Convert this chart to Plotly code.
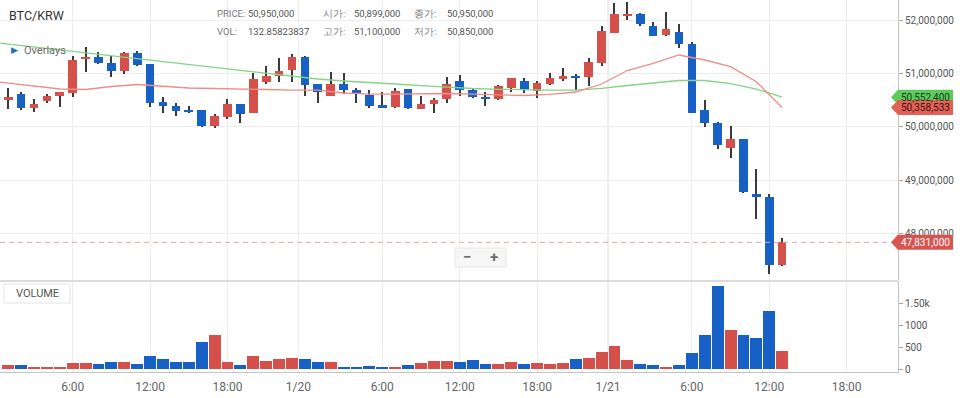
import plotly.graph_objects as go

# ---------------- data ----------------
# hourly candles, index 0 = 1/19 01:00 ... index 60 = 1/21 13:00
idx = list(range(61))
open_ = [50513000, 50612000, 50356000, 50487000, 50575000, 50626000, 51263000, 51306000, 51194000, 51038000,
         51387000, 51169000, 50457000, 50388000, 50313000, 50313000, 50012000, 50176000, 50419000, 50262000,
         50832000, 50956000, 51057000, 51306000, 50794000, 50581000, 50794000, 50688000, 50594000, 50406000,
         50363000, 50706000, 50331000, 50419000, 50513000, 50856000, 50688000, 50556000, 50519000, 50731000,
         50862000, 50675000, 50794000, 50899000, 50956000, 50937000, 51199000, 51756000, 52075000, 52112000,
         51893000, 51725000, 51781000, 51544000, 50313000, 50063000, 49600000, 49763000, 48743000, 48676000,
         47401000]
high = [50719000, 50644000, 50513000, 50607000, 50650000, 51331000, 51500000, 51406000, 51331000, 51400000,
        51419000, 51180000, 50562000, 50438000, 50388000, 50320000, 50244000, 50513000, 50425000, 51000000,
        51138000, 51282000, 51357000, 51320000, 50800000, 51031000, 51012000, 50719000, 50688000, 50656000,
        50719000, 50710000, 50575000, 50544000, 50937000, 50969000, 50700000, 50656000, 50775000, 50920000,
        50907000, 50862000, 51012000, 51100000, 50988000, 51294000, 51888000, 52313000, 52343000, 52125000,
        51957000, 52144000, 51919000, 51582000, 50500000, 50094000, 50012000, 49770000, 49200000, 48737000,
        47907000]
low = [50331000, 50307000, 50281000, 50438000, 50363000, 50550000, 51031000, 51175000, 50925000, 50988000,
       51143000, 50363000, 50250000, 50206000, 50260000, 50000000, 49981000, 50150000, 50063000, 50250000,
       50794000, 50844000, 50844000, 50575000, 50450000, 50575000, 50607000, 50438000, 50344000, 50350000,
       50344000, 50340000, 50325000, 50250000, 50438000, 50575000, 50532000, 50388000, 50500000, 50644000,
       50626000, 50532000, 50790000, 50850000, 50688000, 50763000, 51138000, 51750000, 52000000, 51888000,
       51700000, 51700000, 51469000, 50250000, 49988000, 49581000, 49418000, 48762000, 48274000, 47237000,
       47390000]
close = [50550000, 50356000, 50419000, 50575000, 50644000, 51250000, 51306000, 51188000, 51044000, 51381000,
         51150000, 50450000, 50394000, 50300000, 50269000, 50012000, 50200000, 50419000, 50244000, 50888000,
         50950000, 51050000, 51306000, 50781000, 50644000, 50806000, 50688000, 50607000, 50394000, 50356000,
         50669000, 50344000, 50425000, 50500000, 50806000, 50682000, 50562000, 50513000, 50769000, 50907000,
         50682000, 50813000, 50907000, 50950000, 50907000, 51207000, 51799000, 52112000, 52112000, 51925000,
         51706000, 51831000, 51556000, 50262000, 50063000, 49656000, 49763000, 48770000, 48681000, 47401000,
         47831000]
volume = [98, 98, 45, 25, 45, 136, 136, 106, 159, 159,
          106, 288, 227, 159, 159, 629, 780, 159, 83, 288,
          182, 227, 250, 227, 159, 159, 45, 45, 68, 45,
          45, 91, 136, 182, 182, 159, 200, 114, 114, 167,
          114, 144, 121, 132.85823837, 227, 250, 386, 538, 205, 114,
          91, 45, 91, 364, 780, 1902, 894, 780, 712, 1326,
          424]

# overlay moving-average lines (every 2 hours)
ma_x = [-2, 0, 2, 4, 6, 8, 10, 12, 14, 16, 18, 20, 22, 24, 26, 28, 30,
        32, 34, 36, 38, 40, 42, 44, 46, 48, 50, 52, 54, 56, 58, 60]
ma_red = [50875000, 50819000, 50762000, 50706000, 50697000, 50753000, 50791000, 50762000, 50725000, 50716000,
          50701000, 50697000, 50687000, 50687000, 50631000, 50612000, 50612000, 50622000, 50622000, 50612000,
          50594000, 50584000, 50607000, 50650000, 50800000, 51053000, 51188000, 51344000, 51250000, 51124000,
          50843000, 50358533]
ma_green = [51602000, 51548000, 51494000, 51437000, 51381000, 51325000, 51272000, 51216000, 51160000, 51109000,
            51057000, 51001000, 50944000, 50894000, 50856000, 50832000, 50800000, 50768000, 50736000, 50716000,
            50701000, 50691000, 50687000, 50687000, 50719000, 50772000, 50819000, 50866000, 50866000, 50809000,
            50706000, 50552400]

# axis ticks
x_tickvals = [5, 11, 17, 22.5, 29, 35, 41, 46.5, 53, 59, 65]
x_ticktext = ["6:00", "12:00", "18:00", "1/20", "6:00", "12:00", "18:00", "1/21", "6:00", "12:00", "18:00"]
day_ticks = [22.5, 46.5]
price_ticks = [48000000, 49000000, 50000000, 51000000, 52000000]
vol_ticks = [0, 500, 1000, 1500]
vol_ticktext = ["0", "500", "1000", "1.50k"]
hover_i = 43

# ---------------- style ----------------
RED = "#d5504a"
BLUE = "#1761c6"
GRID = "#ededed"
FONT = "Roboto"

up = [c >= o for o, c in zip(open_, close)]
colors = [RED if u else BLUE for u in up]

fig = go.Figure()

# wicks
fig.add_trace(go.Bar(x=idx, y=[h - l for h, l in zip(high, low)], base=low, width=0.08,
                     marker=dict(color="#3a3a3a", line=dict(width=0)),
                     xaxis="x", yaxis="y", hoverinfo="skip", showlegend=False))
# bodies
fig.add_trace(go.Bar(x=idx, y=[abs(c - o) for o, c in zip(open_, close)],
                     base=[min(o, c) for o, c in zip(open_, close)], width=0.67,
                     marker=dict(color=colors, line=dict(width=0)),
                     xaxis="x", yaxis="y", hoverinfo="skip", showlegend=False))
# MAs
fig.add_trace(go.Scatter(x=ma_x, y=ma_green, mode="lines", line=dict(color="#83d483", width=1.3),
                         xaxis="x", yaxis="y", hoverinfo="skip", showlegend=False))
fig.add_trace(go.Scatter(x=ma_x, y=ma_red, mode="lines", line=dict(color="#ef8d86", width=1.3),
                         xaxis="x", yaxis="y", hoverinfo="skip", showlegend=False))
# volume
fig.add_trace(go.Bar(x=idx, y=volume, width=0.92, marker=dict(color=colors, line=dict(width=0)),
                     xaxis="x2", yaxis="y2", hoverinfo="skip", showlegend=False))

W, H_PLOT = 898, 372
def px(x):
    return x / W
def py(y):
    return (H_PLOT - y) / H_PLOT

shapes = []
for d in day_ticks:
    shapes.append(dict(type="line", xref="x", yref="paper", x0=d, x1=d, y0=0, y1=1,
                       line=dict(color="#dcdcdc", width=1), layer="below"))
# separator between panels
shapes.append(dict(type="line", xref="paper", yref="paper", x0=0, x1=1, y0=py(281), y1=py(281),
                   line=dict(color="#cfcfcf", width=1.5)))
# current price dashed line
shapes.append(dict(type="line", xref="paper", yref="y", x0=0, x1=1, y0=close[-1], y1=close[-1],
                   line=dict(color="#f0a19c", width=1, dash="5px,4px"), layer="above"))
# zoom control
shapes.append(dict(type="rect", xref="paper", yref="paper", x0=px(455), x1=px(506), y0=py(267), y1=py(248),
                   fillcolor="#f6f6f6", line=dict(color="#e6e6e6", width=1)))
# VOLUME box
shapes.append(dict(type="rect", xref="paper", yref="paper", x0=px(4), x1=px(70), y0=py(303), y1=py(284),
                   fillcolor="white", line=dict(color="#e4e4e4", width=1)))

def tag(value, fill):
    return dict(type="path", xref="paper", yref="y", xsizemode="pixel", ysizemode="pixel",
                xanchor=1, yanchor=value,
                path="M -7,0 L 0,7.5 L 55,7.5 L 55,-7.5 L 0,-7.5 Z",
                fillcolor=fill, line=dict(width=0), layer="above")

shapes.append(tag(ma_green[-1], "#5ccb5c"))
shapes.append(tag(ma_red[-1], "#e06158"))
shapes.append(tag(close[-1], "#d9534f"))

annotations = []
def txt(x, y, s, size=10, color="#444", xanchor="left", xref="paper", yref="paper", **kw):
    annotations.append(dict(x=x, y=y, xref=xref, yref=yref, text=s, showarrow=False,
                            xanchor=xanchor, yanchor="middle",
                            font=dict(family=FONT, size=size, color=color), **kw))

txt(px(7), py(16), "BTC/KRW", size=12.5, color="#333")
hdr_l, hdr_v = "#7a7a7a", "#555"
txt(px(215), py(14), "PRICE:", 9.5, hdr_l)
txt(px(246), py(14), f"{close[hover_i]:,}", 9.5, hdr_v)
txt(px(321), py(14), "시가:", 9.5, hdr_l)
txt(px(352), py(14), f"{open_[hover_i]:,}", 9.5, hdr_v)
txt(px(412), py(14), "종가:", 9.5, hdr_l)
txt(px(445), py(14), f"{close[hover_i]:,}", 9.5, hdr_v)
txt(px(215), py(31), "VOL:", 9.5, hdr_l)
txt(px(246), py(31), f"{volume[hover_i]}", 9.5, hdr_v)
txt(px(321), py(31), "고가:", 9.5, hdr_l)
txt(px(352), py(31), f"{high[hover_i]:,}", 9.5, hdr_v)
txt(px(412), py(31), "저가:", 9.5, hdr_l)
txt(px(445), py(31), f"{low[hover_i]:,}", 9.5, hdr_v)
txt(px(9), py(50), "▶", 9, "#1a6fd8")
txt(px(22), py(50), "Overlays", 11, "#6b6b6b")
txt(px(37), py(293.5), "VOLUME", 11, "#555", xanchor="center")
txt(px(467.5), py(257), "<b>−</b>", 15, "#6b6b6b", xanchor="center")
txt(px(493.5), py(257), "<b>+</b>", 15, "#6b6b6b", xanchor="center")

def tagtxt(value, color):
    annotations.append(dict(x=1, y=value, xref="paper", yref="y", text=f"{value:,}", showarrow=False,
                            xanchor="left", yanchor="middle", xshift=1,
                            font=dict(family=FONT, size=10, color=color)))

tagtxt(ma_green[-1], "#1d3a1d")
tagtxt(ma_red[-1], "#3d1210")
tagtxt(close[-1], "white")

axis_common = dict(showgrid=True, gridcolor=GRID, gridwidth=1, zeroline=False)

fig.update_layout(
    width=960, height=398,
    margin=dict(l=0, r=62, t=0, b=26),
    paper_bgcolor="white", plot_bgcolor="white",
    barmode="overlay", bargap=0,
    showlegend=False, hovermode=False,
    font=dict(family=FONT, size=10, color="#555"),
    xaxis=dict(domain=[0, 1], range=[-0.636, 68.98], anchor="y", tickmode="array",
               tickvals=x_tickvals, ticktext=x_ticktext, showticklabels=False, ticks="", **axis_common),
    xaxis2=dict(domain=[0, 1], matches="x", anchor="y2", tickmode="array",
                tickvals=x_tickvals, ticktext=x_ticktext, ticks="", showline=True, linecolor="#c4c4c4",
                ticklabelstandoff=4,
                tickfont=dict(family=FONT, size=12, color="#666"), **axis_common),
    yaxis=dict(domain=[py(280), 1], range=[47125000, 52375000], side="right", anchor="x",
               tickmode="array", tickvals=price_ticks, ticktext=[f"{v:,}" for v in price_ticks],
               ticks="outside", ticklen=4, tickcolor="#aaa", showline=True, linecolor="#c4c4c4",
               tickfont=dict(family=FONT, size=10, color="#555"), **axis_common),
    yaxis2=dict(domain=[0, py(281)], range=[-69, 2023], side="right", anchor="x2",
                tickmode="array", tickvals=vol_ticks, ticktext=vol_ticktext,
                ticks="outside", ticklen=4, tickcolor="#aaa", showline=True, linecolor="#c4c4c4",
                showgrid=False, zeroline=False,
                tickfont=dict(family=FONT, size=10, color="#555")),
    shapes=shapes, annotations=annotations,
)

fig.write_html("out.html", config={"displayModeBar": False},
               post_script="document.body.style.margin='0';document.body.style.padding='0';")
